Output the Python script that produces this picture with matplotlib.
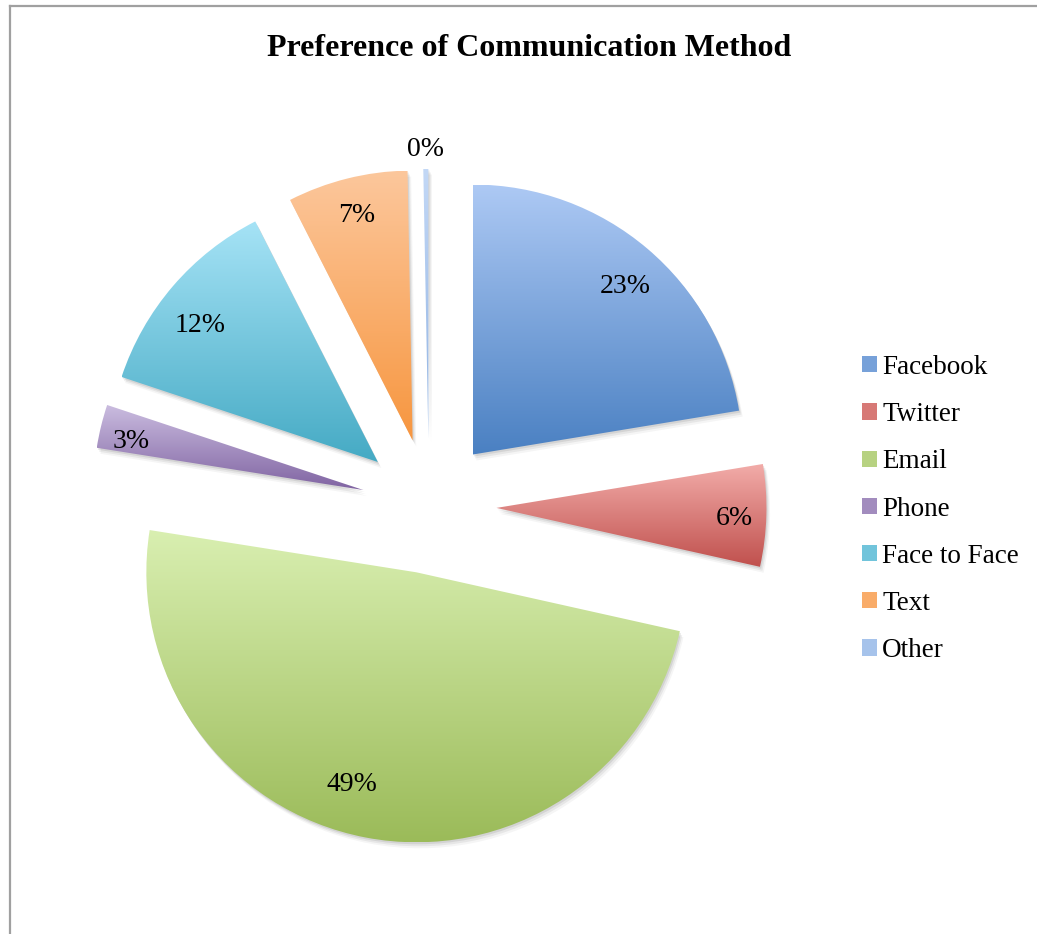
import numpy as np
import matplotlib
matplotlib.use("Agg")
import matplotlib.pyplot as plt
from matplotlib.colors import to_rgb
from matplotlib.patches import Patch, Wedge
from matplotlib.lines import Line2D

categories = ["Facebook", "Twitter", "Email", "Phone", "Face to Face", "Text", "Other"]
shares = [22.4, 6.1, 49.0, 2.6, 12.4, 7.2, 0.3]
pct_labels = ["23%", "6%", "49%", "3%", "12%", "7%", "0%"]
top_colors = ["#adc9f4", "#f2aca9", "#d9efb1", "#cbbde0", "#a6e3f6", "#fcc79c", "#c3d8f6"]
bottom_colors = ["#4a80c2", "#c0504d", "#9bbb59", "#8064a2", "#45aac4", "#f7963f", "#8fb2e2"]

# label placement (fraction of radius, angular nudge in degrees)
label_dist = [0.84, 0.88, 0.82, 0.88, 0.83, 0.86, 1.07]
label_nudge = [-2, -1, -6, 2, 3, 0, 0]

W, H = 1037, 934
R = 270.0  # pie radius in px
cx, cy = 429, 506  # pie centre, px from top-left

fig = plt.figure(figsize=(W / 100, H / 100), dpi=100)
ax = fig.add_axes([0, 0, 1, 1])

wedges, _ = ax.pie(shares, startangle=90, counterclock=False,
                   explode=[0.25] * len(shares), radius=1.0,
                   wedgeprops=dict(linewidth=0))

px = 1.0 / R
for i, w in enumerate(wedges):
    w.set_facecolor("none")
    w.set_edgecolor("none")
    # soft shadow
    for k, a in [(6, 0.04), (4, 0.06), (2, 0.08)]:
        sh = Wedge((w.center[0] + k * px * 0.6, w.center[1] - k * px),
                   w.r, w.theta1, w.theta2, facecolor="black",
                   edgecolor="none", alpha=a, zorder=0.5)
        ax.add_patch(sh)
    # vertical gradient clipped to the wedge
    ext = w.get_path().get_extents()
    grad = np.linspace(0, 1, 256)[:, None, None]
    img = (1 - grad) * np.array(to_rgb(top_colors[i])) + grad * np.array(to_rgb(bottom_colors[i]))
    im = ax.imshow(img, extent=[ext.x0, ext.x1, ext.y0, ext.y1],
                   origin="upper", aspect="auto", zorder=1, interpolation="bilinear")
    im.set_clip_path(w)

    mid = np.deg2rad((w.theta1 + w.theta2) / 2 + label_nudge[i])
    d = label_dist[i]
    ax.text(w.center[0] + d * np.cos(mid), w.center[1] + d * np.sin(mid),
            pct_labels[i], ha="center", va="center", fontsize=20,
            family="Liberation Serif", color="black", zorder=3)

ax.set_xlim(-cx / R, (W - cx) / R)
ax.set_ylim(-(H - cy) / R, cy / R)
ax.set_aspect("auto")
ax.axis("off")

fig.text(529 / W, 1 - 48 / H, "Preference of Communication Method",
         ha="center", va="center", fontsize=23, fontweight="bold",
         family="Liberation Serif")

handles = [Patch(facecolor=c, edgecolor="none") for c in
           [np.array(to_rgb(t)) * 0.45 + np.array(to_rgb(b)) * 0.55
            for t, b in zip(top_colors, bottom_colors)]]
fig.legend(handles, categories, loc="center left",
           bbox_to_anchor=(851 / W, 1 - 509 / H), frameon=False,
           prop=dict(family="Liberation Serif", size=19.5),
           handlelength=0.55, handleheight=0.55, handletextpad=0.2,
           labelspacing=0.82, borderaxespad=0)

# outer frame (cut at right and bottom)
fig.add_artist(Line2D([10 / W, 1], [1 - 6 / H, 1 - 6 / H], color="#a0a0a0", lw=1.6))
fig.add_artist(Line2D([10 / W, 10 / W], [0, 1 - 6 / H], color="#a0a0a0", lw=1.6))

fig.savefig("out.png", dpi=100)
